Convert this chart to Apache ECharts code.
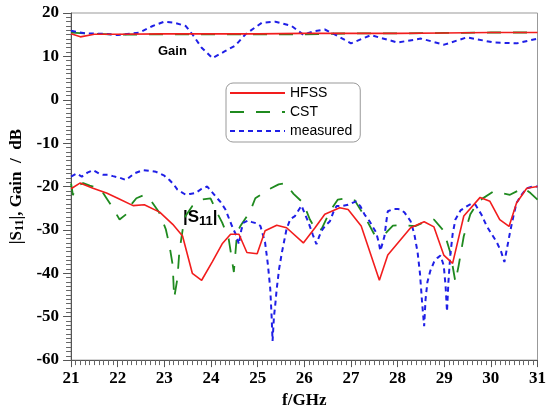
<!DOCTYPE html>
<html>
<head>
<meta charset="utf-8">
<script src="https://cdn.jsdelivr.net/npm/echarts@6/dist/echarts.min.js"></script>
<style>html,body{margin:0;padding:0;background:#fff}#c{width:549px;height:414px}</style>
</head>
<body>
<div id="c"></div>
<script>
// ---- data (frequency GHz, dB) ----
const xTicks = [21,22,23,24,25,26,27,28,29,30,31];
const yTicks = [-60,-50,-40,-30,-20,-10,0,10,20];

const hfssGain = [[21,15.2],[21.2,14.5],[21.5,15.1],[22,15.1],[23,15.2],[24,15.2],[25,15.2],[26,15.3],[27,15.3],[28,15.3],[29,15.4],[30,15.5],[31,15.5]];
const cstGain = [[21,15.5],[21.5,15.2],[22,15.0],[23,15.1],[24,15.1],[25,15.1],[26,15.1],[27,15.3],[28,15.3],[29,15.4],[30,15.5],[31,15.5]];
const measGain = [[21,15.9],[21.3,15.3],[21.7,15.2],[22.0,14.9],[22.47,15.5],[22.75,17],[23.0,18],[23.2,17.8],[23.46,17],[23.6,15.1],[23.8,12],[24.03,9.6],[24.3,11.2],[24.52,12.5],[24.74,15.1],[25.09,17.75],[25.38,18],[25.73,17],[25.98,15],[26.2,15.8],[26.44,16.2],[26.65,15.1],[27.0,13],[27.43,14.9],[28.0,13.2],[28.5,14.1],[29.0,12.7],[29.49,14.4],[30.06,13.2],[30.55,13],[31,14.1]];

const hfssS11 = [[21.0,-20.5],[21.19,-19.2],[21.47,-20.4],[21.76,-21.5],[22.0,-22.7],[22.33,-24.4],[22.57,-24.2],[22.9,-25.9],[23.18,-28.7],[23.39,-31.4],[23.6,-40],[23.8,-41.6],[24.03,-37.3],[24.24,-33.2],[24.42,-31],[24.6,-31],[24.77,-35.2],[24.99,-35.5],[25.16,-30.2],[25.41,-28.9],[25.62,-29.5],[25.98,-33],[26.23,-29.5],[26.44,-26.4],[26.76,-24.9],[26.94,-25.3],[27.22,-29.1],[27.61,-41.6],[27.79,-35.8],[28.28,-29.5],[28.57,-28.1],[28.78,-29.3],[28.99,-35.8],[29.18,-37.7],[29.42,-26.8],[29.77,-22.5],[29.98,-23.4],[30.19,-27.6],[30.39,-29.2],[30.55,-23.8],[30.77,-20.4],[31.0,-20]];

const cstS11 = [[21.0,-19.3],[21.04,-22],[21.1,-20],[21.2,-19.5],[21.26,-19.2],[21.4,-19.8],[21.62,-20.4],[21.76,-22.7],[21.9,-25],[22.04,-27.6],[22.18,-26.4],[22.3,-24],[22.4,-22.7],[22.55,-22],[22.68,-22.7],[22.89,-26],[23.03,-29.8],[23.11,-33.6],[23.18,-38.2],[23.21,-45.7],[23.28,-41.2],[23.32,-35.2],[23.43,-27.2],[23.6,-24.5],[23.81,-23],[23.99,-22.7],[24.13,-26],[24.24,-28.3],[24.38,-32.1],[24.49,-39.7],[24.56,-30.6],[24.63,-29.1],[24.84,-25.7],[24.95,-22.7],[25.23,-20.7],[25.45,-19.5],[25.59,-19.2],[25.77,-21.7],[25.98,-23.8],[26.12,-27.6],[26.26,-30.2],[26.37,-29.8],[26.55,-25.7],[26.72,-23],[26.9,-22.7],[27.07,-23],[27.29,-26.8],[27.5,-31],[27.72,-31],[27.9,-29],[28.07,-28.9],[28.39,-29.1],[28.6,-28],[28.78,-27.6],[28.99,-30.2],[29.13,-35.2],[29.24,-42],[29.31,-38.2],[29.42,-31.4],[29.56,-26.4],[29.73,-23.4],[30.06,-21.1],[30.41,-21.9],[30.7,-20.3],[30.85,-21.5],[31.0,-23]];

const measS11 = [[21.0,-17.7],[21.12,-17],[21.23,-17.7],[21.35,-16.8],[21.47,-16.2],[21.6,-17],[21.69,-17.3],[21.8,-17.3],[21.9,-17.6],[22.05,-18],[22.18,-18.5],[22.35,-17],[22.54,-16.2],[22.7,-16.4],[22.82,-16.6],[23.0,-17.5],[23.11,-18.5],[23.2,-19.5],[23.28,-20.7],[23.46,-21.9],[23.55,-21.7],[23.67,-21.5],[23.8,-20.5],[23.92,-20],[24.0,-21],[24.1,-22.3],[24.2,-23.5],[24.31,-25.3],[24.45,-29.1],[24.53,-31],[24.6,-33.3],[24.65,-30],[24.7,-28.3],[24.8,-27.8],[24.88,-28.2],[24.98,-28.5],[25.06,-29.1],[25.16,-32.9],[25.22,-38],[25.27,-43.5],[25.3,-50],[25.32,-55.6],[25.35,-50],[25.38,-47],[25.41,-43.5],[25.46,-39],[25.52,-35.2],[25.62,-29.8],[25.7,-27.5],[25.8,-26.8],[25.94,-24.4],[26.09,-28.3],[26.18,-31],[26.26,-33.3],[26.32,-31.5],[26.37,-30.2],[26.45,-29],[26.55,-28],[26.62,-26],[26.69,-24.5],[26.8,-24.5],[26.94,-24.2],[27.11,-23.4],[27.2,-24.5],[27.29,-26.4],[27.4,-28],[27.48,-29.5],[27.54,-30.6],[27.6,-33],[27.63,-34.8],[27.68,-33],[27.72,-31.4],[27.76,-28],[27.79,-25.7],[27.9,-25.2],[28.0,-25.2],[28.07,-25.3],[28.15,-26],[28.28,-28],[28.36,-31],[28.43,-35.2],[28.48,-40],[28.53,-47.3],[28.57,-52.2],[28.6,-46],[28.64,-42],[28.7,-39.5],[28.78,-37.4],[28.85,-36.5],[28.92,-35.9],[28.99,-38.2],[29.03,-43],[29.06,-48.8],[29.09,-42],[29.13,-35.9],[29.18,-31],[29.24,-27.6],[29.35,-25.5],[29.49,-24.5],[29.58,-24],[29.67,-24.2],[29.8,-26.5],[29.91,-29.1],[30.02,-31],[30.13,-32.9],[30.22,-35],[30.29,-37.4],[30.35,-34],[30.41,-30.6],[30.48,-27],[30.55,-23.8],[30.65,-22],[30.77,-20.4],[30.9,-20],[31.0,-20]];

const seriesNames = ['HFSS','CST','measured'];

// ---- chart ----
const RED = '#f21d1d', GREEN = '#1f8a1f', BLUE = '#1f1fe6';
const serif = 'Liberation Serif', sans = 'Liberation Sans';
const styles = {
  HFSS: {color: RED, width: 1.6, type: 'solid'},
  CST: {color: GREEN, width: 1.8, type: [14, 12]},
  measured: {color: BLUE, width: 2, type: [5, 4]}
};
function mk(name, data) {
  const s = styles[name];
  return {name, type: 'line', data, symbol: 'none', smooth: false, z: name === 'HFSS' ? 4 : 3,
    lineStyle: {color: s.color, width: s.width, type: s.type}, itemStyle: {color: s.color}};
}
const chart = echarts.init(document.getElementById('c'), null, {renderer: 'canvas'});
chart.setOption({
  animation: false,
  backgroundColor: '#fff',
  grid: {left: 71, top: 13, right: 8, bottom: 46, show: true, borderColor: '#999', borderWidth: 1, backgroundColor: 'transparent'},
  legend: {
    data: seriesNames, orient: 'vertical', left: 226, top: 83,
    itemWidth: 55, itemHeight: 14, itemGap: 5,
    padding: [3, 8, 4, 3],
    backgroundColor: '#fff', borderColor: '#999', borderWidth: 1, borderRadius: 7,
    itemStyle: {opacity: 0, color: 'transparent', borderWidth: 0},
    textStyle: {fontFamily: sans, fontSize: 14, color: '#000', padding: [0,0,0,0]}
  },
  xAxis: {
    type: 'value', min: 21, max: 31, interval: 1,
    name: 'f/GHz', nameLocation: 'middle', nameGap: 30,
    nameTextStyle: {fontFamily: serif, fontWeight: 'bold', fontSize: 17, color: '#000'},
    axisLine: {onZero: false, lineStyle: {color: '#555', width: 1}},
    axisTick: {show: true, inside: false, length: 7, lineStyle: {color: '#555'}},
    minorTick: {show: true, splitNumber: 10, length: 5, lineStyle: {color: '#666'}},
    axisLabel: {fontFamily: serif, fontWeight: 'bold', fontSize: 17, color: '#000', margin: 10,
      formatter: v => xTicks.includes(v) ? String(v) : ''},
    splitLine: {show: false}
  },
  yAxis: {
    type: 'value', min: -60, max: 20, interval: 10,
    name: '{b||S}{s|11}{b||, Gain  /  dB}', nameLocation: 'middle', nameGap: 43,
    nameTextStyle: {fontFamily: serif, fontWeight: 'bold', fontSize: 17, color: '#000',
      rich: {
        b: {fontFamily: serif, fontWeight: 'bold', fontSize: 17, color: '#000'},
        s: {fontFamily: serif, fontWeight: 'bold', fontSize: 12, color: '#000', padding: [6, 0, 0, 0]}
      }},
    axisLine: {onZero: false, lineStyle: {color: '#555', width: 1}},
    axisTick: {show: true, inside: false, length: 8, lineStyle: {color: '#555'}},
    minorTick: {show: true, splitNumber: 10, length: 5, lineStyle: {color: '#666'}},
    axisLabel: {fontFamily: serif, fontWeight: 'bold', fontSize: 17, color: '#000', margin: 12,
      formatter: v => yTicks.includes(v) ? String(v) : ''},
    splitLine: {show: false}
  },
  graphic: [
    {type: 'text', left: 158, top: 45, style: {text: 'Gain', fontFamily: sans, fontWeight: 'bold', fontSize: 13, fill: '#000'}},
    {type: 'text', left: 183, top: 209, style: {
      text: '{b||S}{s|11}{b||}', fontFamily: sans, fontSize: 16, fill: '#000',
      rich: {
        b: {fontFamily: sans, fontWeight: 'bold', fontSize: 17, fill: '#000', color: '#000'},
        s: {fontFamily: sans, fontWeight: 'bold', fontSize: 13, fill: '#000', color: '#000', padding: [7, 0, 0, 0]}
      }}}
  ],
  series: [
    mk('HFSS', hfssS11), mk('CST', cstS11), mk('measured', measS11),
    mk('HFSS', hfssGain), mk('CST', cstGain), mk('measured', measGain)
  ]
});
</script>
</body>
</html>
